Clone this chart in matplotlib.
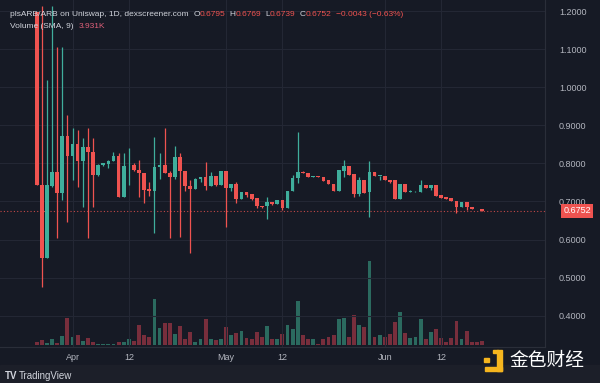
import numpy as np
import pandas as pd
from matplotlib import pyplot as plt
from matplotlib.patches import Rectangle

# daily candles from Mar 25 to Jun 20
dates = pd.date_range("2023-03-25", periods=88, freq="D")
opens = [1.198, 0.743, 0.551, 0.741, 0.777, 0.723, 0.872, 0.820, 0.851, 0.806,
         0.844, 0.831, 0.770, 0.796, 0.798, 0.806, 0.820, 0.711, 0.795, 0.796,
         0.783, 0.776, 0.734, 0.728, 0.791, 0.796, 0.776, 0.765, 0.817, 0.780,
         0.741, 0.734, 0.760, 0.765, 0.741, 0.767, 0.743, 0.781, 0.735, 0.746,
         0.706, 0.726, 0.719, 0.710, 0.689, 0.688, 0.699, 0.694, 0.704, 0.684,
         0.728, 0.761, 0.778, 0.774, 0.763, 0.767, 0.765, 0.756, 0.747, 0.728,
         0.780, 0.793, 0.772, 0.719, 0.756, 0.726, 0.778, 0.767, 0.767, 0.756,
         0.756, 0.706, 0.745, 0.726, 0.727, 0.725, 0.743, 0.735, 0.743, 0.717,
         0.711, 0.708, 0.701, 0.685, 0.698, 0.685, 0.681, 0.6795]
highs = [1.198, 1.214, 1.019, 1.214, 1.106, 1.106, 0.927, 0.893, 0.888, 0.867,
         0.893, 0.867, 0.798, 0.802, 0.808, 0.831, 0.827, 0.827, 0.840, 0.800,
         0.810, 0.776, 0.750, 0.870, 0.827, 0.893, 0.780, 0.846, 0.828, 0.780,
         0.756, 0.762, 0.765, 0.803, 0.778, 0.767, 0.781, 0.781, 0.746, 0.752,
         0.726, 0.726, 0.719, 0.710, 0.689, 0.711, 0.699, 0.704, 0.704, 0.728,
         0.770, 0.883, 0.781, 0.774, 0.767, 0.767, 0.765, 0.756, 0.747, 0.784,
         0.809, 0.793, 0.772, 0.764, 0.756, 0.806, 0.778, 0.768, 0.767, 0.756,
         0.756, 0.745, 0.745, 0.729, 0.728, 0.756, 0.743, 0.743, 0.743, 0.717,
         0.711, 0.708, 0.701, 0.698, 0.698, 0.685, 0.681, 0.6795]
lows = [0.743, 0.476, 0.551, 0.738, 0.604, 0.704, 0.647, 0.756, 0.739, 0.686,
        0.604, 0.686, 0.768, 0.794, 0.787, 0.806, 0.711, 0.711, 0.743, 0.780,
        0.713, 0.696, 0.715, 0.617, 0.760, 0.775, 0.604, 0.758, 0.608, 0.728,
        0.564, 0.732, 0.752, 0.730, 0.741, 0.740, 0.743, 0.634, 0.728, 0.697,
        0.706, 0.712, 0.705, 0.682, 0.684, 0.653, 0.692, 0.694, 0.678, 0.684,
        0.728, 0.748, 0.774, 0.763, 0.763, 0.763, 0.754, 0.745, 0.728, 0.728,
        0.765, 0.770, 0.713, 0.714, 0.723, 0.658, 0.767, 0.757, 0.756, 0.748,
        0.706, 0.706, 0.726, 0.726, 0.726, 0.725, 0.735, 0.731, 0.715, 0.710,
        0.706, 0.700, 0.671, 0.685, 0.677, 0.680, 0.679, 0.6739]
closes = [0.743, 0.551, 0.743, 0.777, 0.723, 0.872, 0.820, 0.851, 0.806, 0.844,
          0.831, 0.770, 0.796, 0.800, 0.806, 0.820, 0.711, 0.794, 0.797, 0.783,
          0.774, 0.730, 0.728, 0.791, 0.796, 0.776, 0.765, 0.817, 0.780, 0.741,
          0.734, 0.760, 0.765, 0.741, 0.767, 0.743, 0.781, 0.735, 0.746, 0.706,
          0.726, 0.717, 0.707, 0.688, 0.685, 0.699, 0.694, 0.704, 0.684, 0.728,
          0.761, 0.778, 0.774, 0.763, 0.767, 0.763, 0.754, 0.745, 0.728, 0.784,
          0.793, 0.770, 0.719, 0.756, 0.723, 0.778, 0.767, 0.768, 0.756, 0.752,
          0.706, 0.745, 0.726, 0.727, 0.727, 0.743, 0.735, 0.743, 0.715, 0.710,
          0.706, 0.700, 0.685, 0.698, 0.685, 0.680, 0.679, 0.6752]
# volume in thousands
volumes = [1.1, 2.5, 0.7, 2.7, 0.7, 4.6, 14.3, 3.9, 5.3, 2.1,
           3.6, 1.2, 0.5, 0.4, 0.4, 0.5, 1.6, 1.1, 3.0, 1.7,
           10.6, 5.1, 4.2, 24.2, 8.9, 11.3, 11.3, 5.7, 9.7, 2.8,
           6.4, 1.6, 2.7, 13.6, 3.0, 2.5, 3.0, 9.5, 4.8, 6.0,
           7.0, 3.6, 3.0, 6.5, 4.2, 9.9, 3.0, 2.7, 5.7, 10.1,
           8.0, 23.3, 5.3, 3.0, 2.8, 0.5, 2.8, 3.9, 5.3, 13.3,
           14.3, 4.2, 15.7, 10.4, 9.2, 44.5, 3.9, 4.9, 3.9, 5.7,
           12.2, 17.5, 6.0, 3.6, 4.2, 13.8, 3.0, 6.9, 8.1, 3.3,
           1.4, 3.3, 12.7, 3.0, 7.4, 1.1, 1.2, 1.7]
last_price = 0.6752
price_ticks = [0.4, 0.5, 0.6, 0.7, 0.8, 0.9, 1.0, 1.1, 1.2]
date_ticks = ["2023-04-01", "2023-04-12", "2023-05-01", "2023-05-12", "2023-06-01", "2023-06-12"]
date_labels = ["Apr", "12", "May", "12", "Jun", "12"]

bg = "#161a25"
grid = "#232734"
up, down = "#3fae9c", "#ef5350"
vup, vdown = "#2b6a5f", "#782e3c"
txt = "#b2b5be"

fig = plt.figure(figsize=(6, 3.83), dpi=100, facecolor=bg)
plt.rcParams["font.family"] = ["Liberation Sans", "DejaVu Sans"]

H = 383.0
ax = fig.add_axes([0, 1 - 347 / H, 545 / 600, 347 / H])
ax.set_facecolor(bg)
axv = ax.twinx()

x = np.arange(len(dates))
o, h, l, c = map(np.array, (opens, highs, lows, closes))
isup = c >= o
cols = np.where(isup, up, down)

axv.bar(x, volumes, width=0.75, color=np.where(isup, vup, vdown), zorder=1)
axv.set_ylim(-1.3, 182.6)
axv.set_yticks([])
for s in axv.spines.values():
    s.set_visible(False)

ax.set_zorder(axv.get_zorder() + 1)
ax.patch.set_visible(False)
axv.patch.set_facecolor(bg)

ax.vlines(x, l, h, colors=cols, linewidth=0.9, zorder=3)
body = np.maximum(np.abs(c - o), 0.0015)
ax.bar(x, body, bottom=np.minimum(o, c), width=0.72, color=cols, zorder=4)

ax.axhline(last_price, color=down, linestyle=(0, (1, 2)), linewidth=0.8, alpha=0.8, zorder=2)

ax.set_xlim(-7.17, 99.3)
ax.set_ylim(0.318, 1.229)

tick_pos = [dates.get_loc(pd.Timestamp(d)) for d in date_ticks]
ax.set_xticks(tick_pos)
ax.set_xticklabels(date_labels)
ax.set_yticks(price_ticks)
ax.set_yticklabels(["%.4f" % p for p in price_ticks])
ax.yaxis.tick_right()
ax.tick_params(axis="both", length=0, colors=txt, labelsize=6.5)
ax.tick_params(axis="y", pad=10)
ax.tick_params(axis="x", pad=4)
ax.grid(True, color=grid, linewidth=0.8)
axv.xaxis.grid(True, color=grid, linewidth=0.8)
for s in ax.spines.values():
    s.set_visible(False)
ax.spines["right"].set_visible(True)
ax.spines["right"].set_color("#2a2e39")
ax.spines["bottom"].set_visible(True)
ax.spines["bottom"].set_color("#2a2e39")

# last price tag on the price scale
ax.annotate("%.4f" % last_price, xy=(1, last_price), xycoords=("axes fraction", "data"),
            xytext=(23, 0), textcoords="offset points", ha="center", va="center",
            fontsize=6.5, color="white",
            bbox=dict(boxstyle="square,pad=0.25", fc=down, ec="none"))

# legend lines at top left
def write(parts, y):
    xpos = 10
    r = fig.canvas.get_renderer()
    for s, col, gap in parts:
        t = fig.text(xpos / 600, 1 - y / H, s, color=col, fontsize=6.0, va="center", ha="left")
        bb = t.get_window_extent(r)
        xpos += bb.width + gap

write([("plsARB/ARB on Uniswap, 1D, dexscreener.com", "#d1d4dc", 5),
       ("O", "#d1d4dc", 0), ("0.6795", down, 4),
       ("H", "#d1d4dc", 0), ("0.6769", down, 4),
       ("L", "#d1d4dc", 0), ("0.6739", down, 4),
       ("C", "#d1d4dc", 0), ("0.6752", down, 4),
       ("\u22120.0043 (\u22120.63%)", down, 0)], 15)
write([("Volume (SMA, 9)", "#d1d4dc", 5), ("3.931K", "#e0607a", 0)], 27)

# bottom strip with branding
fig.patches.append(Rectangle((0, 0), 1, 18 / H, transform=fig.transFigure, color="#1c1f29", zorder=0))
fig.text(5 / 600, 1 - 376 / H, "TV", fontsize=7, fontweight="bold", color="#d1d4dc", va="center")
fig.text(19 / 600, 1 - 376 / H, "TradingView", fontsize=7, color="#d1d4dc", va="center")

# watermark logo
yel = "#f5b51e"
for rx, ry, rw, rh in [(484, 357.7, 5.3, 4.6), (497.3, 350, 4.4, 21), (492.7, 350, 5, 3.3), (485, 366.7, 16.7, 4.3)]:
    fig.patches.append(Rectangle((rx / 600, 1 - (ry + rh) / H), rw / 600, rh / H,
                                 transform=fig.transFigure, color=yel, zorder=5))
fig.text(509 / 600, 1 - 360 / H, "金色财经", fontsize=13.5, color="white", va="center",
         family=["Noto Sans CJK SC", "DejaVu Sans"])

fig.savefig("out.png", dpi=100, facecolor=bg)
